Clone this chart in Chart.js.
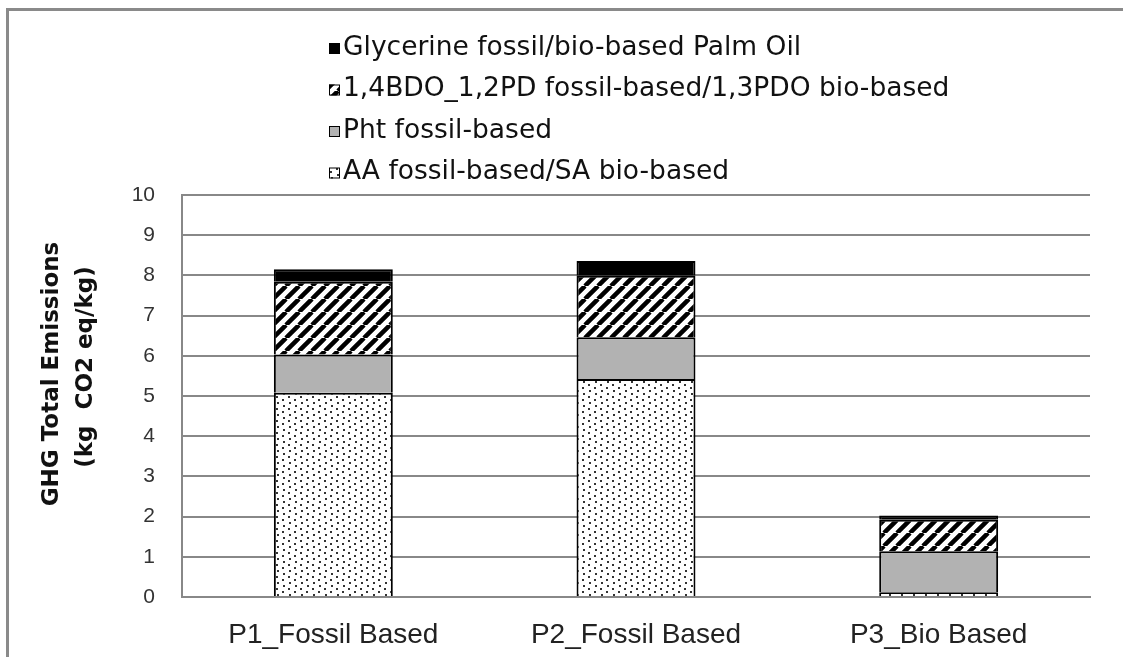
<!DOCTYPE html>
<html>
<head>
<meta charset="utf-8">
<script src="https://cdn.jsdelivr.net/npm/chart.js@4.4.1/dist/chart.umd.min.js"></script>
<style>
  html, body { margin: 0; padding: 0; background: #fff; overflow: hidden; }
  #wrap { position: relative; width: 1123px; height: 657px; overflow: hidden; }
  #chart { position: absolute; left: 0; top: 0; }
  .edge { position: absolute; background: #8a8a8a; pointer-events: none; }
  #edgeTop { left: 6px; top: 8px; width: 1200px; height: 3px; }
  #edgeLeft { left: 6px; top: 8px; width: 3px; height: 700px; }
</style>
</head>
<body>
<div id="wrap">
  <canvas id="chart" width="1123" height="657"></canvas>
  <div class="edge" id="edgeTop"></div>
  <div class="edge" id="edgeLeft"></div>
</div>
<script>
const categories = ['P1_Fossil Based', 'P2_Fossil Based', 'P3_Bio Based'];

const seriesNames = [
    'AA fossil-based/SA bio-based',
    'Pht fossil-based',
    '1,4BDO_1,2PD fossil-based/1,3PDO bio-based',
    'Glycerine fossil/bio-based Palm Oil'
];

const aaValues = [5.08, 5.42, 0.12];
const phtValues = [0.95, 1.04, 1.02];
const bdoValues = [1.81, 1.53, 0.78];
const glycerineValues = [0.31, 0.37, 0.11];

const yTitleLines = ['GHG Total Emissions', '(kg  CO2 eq/kg)'];

// small tiles used as fills for the bars
function makeTile(size, draw) {
    const c = document.createElement('canvas');
    c.width = size;
    c.height = size;
    const g = c.getContext('2d');
    g.fillStyle = '#fff';
    g.fillRect(0, 0, size, size);
    draw(g, size);
    return g.createPattern(c, 'repeat');
}

const dotFill = makeTile(12, function(g) {
    g.fillStyle = '#333';
    g.fillRect(0, 0, 2, 2);
    g.fillRect(6, 3, 2, 2);
    g.fillRect(1, 6, 2, 2);
    g.fillRect(7, 9, 2, 2);
});

const stripeFill = makeTile(13, function(g, s) {
    g.strokeStyle = '#000';
    g.lineWidth = 4.5;
    g.beginPath();
    [-s, 0, s].forEach(o => {
        g.moveTo(o, s);
        g.lineTo(o + s, 0);
    });
    g.stroke();
});

const fills = [dotFill, '#b2b2b2', stripeFill, '#000'];
const seriesData = [aaValues, phtValues, bdoValues, glycerineValues];

// legend drawn as a single column, top entry = last dataset
const columnLegend = {
    id: 'columnLegend',
    afterDraw(chart) {
        const ctx = chart.ctx;
        const ds = chart.data.datasets;
        ctx.save();
        ctx.font = '26.5px "DejaVu Sans"';
        ctx.textBaseline = 'middle';
        ctx.textAlign = 'left';
        for (let i = ds.length - 1, row = 0; i >= 0; i--, row++) {
            const y = 48 + row * 41.5;
            ctx.fillStyle = ds[i].backgroundColor;
            ctx.fillRect(329, y - 5, 11, 11);
            ctx.strokeStyle = '#000';
            ctx.lineWidth = 1;
            ctx.strokeRect(329.5, y - 4.5, 10, 10);
            ctx.fillStyle = '#111';
            ctx.fillText(ds[i].label, 343, y);
        }
        ctx.restore();
    }
};

// two-line rotated title for the value axis
const yAxisTitle = {
    id: 'yAxisTitle',
    afterDraw(chart) {
        const ctx = chart.ctx;
        ctx.save();
        ctx.font = 'bold 23px "DejaVu Sans"';
        ctx.fillStyle = '#111';
        ctx.textAlign = 'center';
        ctx.textBaseline = 'middle';
        [[52, 374], [86, 367]].forEach((pos, k) => {
            ctx.save();
            ctx.translate(pos[0], pos[1]);
            ctx.rotate(-Math.PI / 2);
            ctx.fillText(yTitleLines[k], 0, 0);
            ctx.restore();
        });
        ctx.restore();
    }
};

const ctx = document.getElementById('chart').getContext('2d');
new Chart(ctx, {
    type: 'bar',
    data: {
        labels: categories,
        datasets: seriesNames.map((name, i) => ({
            label: name,
            data: seriesData[i],
            backgroundColor: fills[i],
            borderColor: '#000',
            borderWidth: 2,
            barPercentage: 0.393,
            categoryPercentage: 1
        }))
    },
    options: {
        responsive: false,
        animation: false,
        layout: { padding: { left: 0, right: 33, top: 195, bottom: 0 } },
        plugins: {
            legend: { display: false },
            tooltip: { enabled: false }
        },
        scales: {
            x: {
                stacked: true,
                grid: { display: false, drawTicks: false },
                border: { display: true, color: '#888', width: 2 },
                ticks: {
                    color: '#222',
                    padding: 21,
                    font: { family: '"Liberation Sans"', size: 28 }
                },
                afterFit(scale) { scale.height = 60; }
            },
            y: {
                stacked: true,
                min: 0,
                max: 10,
                grid: { color: '#888', lineWidth: 2, drawTicks: false },
                border: { display: true, color: '#888', width: 2 },
                ticks: {
                    stepSize: 1,
                    color: '#333',
                    padding: 27,
                    font: { family: '"Liberation Sans"', size: 21 }
                },
                afterFit(scale) { scale.width = 182; }
            }
        }
    },
    plugins: [columnLegend, yAxisTitle]
});
</script>
</body>
</html>
